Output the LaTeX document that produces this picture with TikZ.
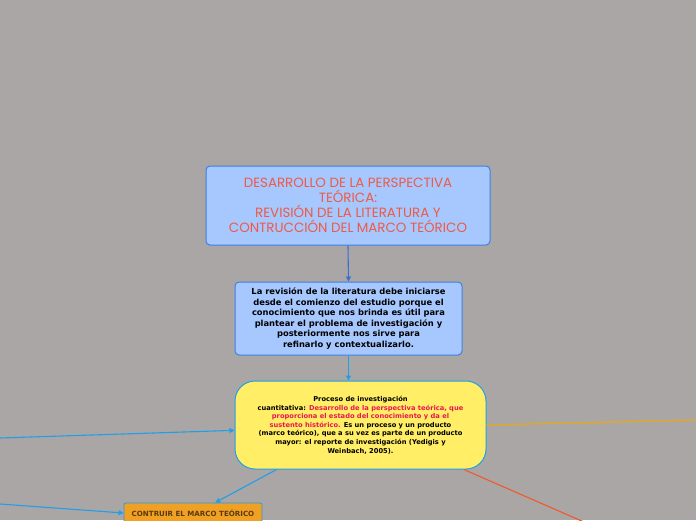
\documentclass[tikz,border=0pt]{standalone}
\usepackage{fontspec}
\setmainfont{DejaVu Sans}
\newfontfamily\titlefont{Poppins}
\usetikzlibrary{arrows.meta,calc}
\definecolor{bgc}{HTML}{ABA6A6}
\definecolor{titlefill}{HTML}{A6C8FF}
\definecolor{titleline}{HTML}{3D7FE0}
\definecolor{titletext}{HTML}{EE5A45}
\definecolor{yelfill}{HTML}{FFEE66}
\definecolor{cyanline}{HTML}{1E9FE8}
\definecolor{redtext}{HTML}{E8174F}
\definecolor{orfill}{HTML}{F0A022}
\definecolor{ortext}{HTML}{5A3A10}
\definecolor{orline}{HTML}{F0A800}
\definecolor{redline}{HTML}{F05A28}
\definecolor{darkblue}{HTML}{3A6FD0}
\tikzset{
  titlebox/.style={draw=titleline, fill=titlefill, line width=1pt, rounded corners=4pt,
    minimum width=284pt, minimum height=79pt, inner sep=0pt, align=center,
    text=titletext, font=\titlefont\fontsize{13.4}{15}\selectfont},
  infobox/.style={draw=titleline, fill=titlefill, line width=1pt, rounded corners=4pt,
    minimum width=227pt, minimum height=73pt, inner sep=0pt, align=center,
    font=\bfseries\fontsize{8.35}{10.5}\selectfont},
  yelbox/.style={draw=cyanline, fill=yelfill, line width=1pt, rounded corners=20pt,
    minimum width=251pt, minimum height=88pt, inner sep=0pt, align=center,
    font=\bfseries\fontsize{6.7}{8.6}\selectfont},
  orbox/.style={draw=cyanline, fill=orfill, line width=0.8pt, rounded corners=2pt,
    minimum width=138pt, minimum height=20pt, inner sep=0pt, align=center,
    text=ortext, font=\bfseries\fontsize{7.1}{8}\selectfont},
  conn/.style={line width=1.1pt, -{Triangle[length=5pt,width=5pt]}},
}
\begin{document}
\begin{tikzpicture}[x=1pt,y=-1pt]
\useasboundingbox (0,0) rectangle (696,520);
\fill[bgc] (0,0) rectangle (696,520);
\clip (0,0) rectangle (696,520);
\node[titlebox] (title) at (348,205.5) {DESARROLLO DE LA PERSPECTIVA\\TEÓRICA:\\REVISIÓN DE LA LITERATURA Y\\CONTRUCCIÓN DEL MARCO TEÓRICO};
\node[infobox] (info) at (348.5,318.5) {La revisión de la literatura debe iniciarse\\desde el comienzo del estudio porque el\\conocimiento que nos brinda es útil para\\plantear el problema de investigación y\\posteriormente nos sirve para\\refinarlo y contextualizarlo.};
\node[yelbox] (proc) at (360.5,425) {Proceso de investigación\\cuantitativa: \textcolor{redtext}{Desarrollo de la perspectiva teórica, que}\\\textcolor{redtext}{proporciona el estado del conocimiento y da el}\\\textcolor{redtext}{sustento histórico.} Es un proceso y un producto\\(marco teórico), que a su vez es parte de un producto\\mayor: el reporte de investigación (Yedigis y\\Weinbach, 2005).};
\node[orbox] (marco) at (193,513) {CONTRUIR EL MARCO TEÓRICO};
\coordinate (l1) at (0,438);
\coordinate (l2) at (0,504);
\coordinate (r1) at (696,420);
\coordinate (r2) at (600,529);
\draw[conn, darkblue] (title.south) -- (info.north);
\draw[conn, cyanline] (info.south) -- (info.south |- proc.north);
\draw[conn, cyanline] (l1) -- ($(proc.south west)!0.44!(proc.north west)$);
\draw[conn, cyanline] ($(proc.south west)!0.167!(proc.south east)$) -- ($(marco.north west)!0.66!(marco.north east)$);
\draw[conn, cyanline] (l2) -- (marco.west);
\draw[orline, line width=1.1pt] (proc.east) -- (r1);
\draw[redline, line width=1.1pt] ($(proc.south west)!0.91!(proc.south east)$) -- (r2);
\end{tikzpicture}
\end{document}
